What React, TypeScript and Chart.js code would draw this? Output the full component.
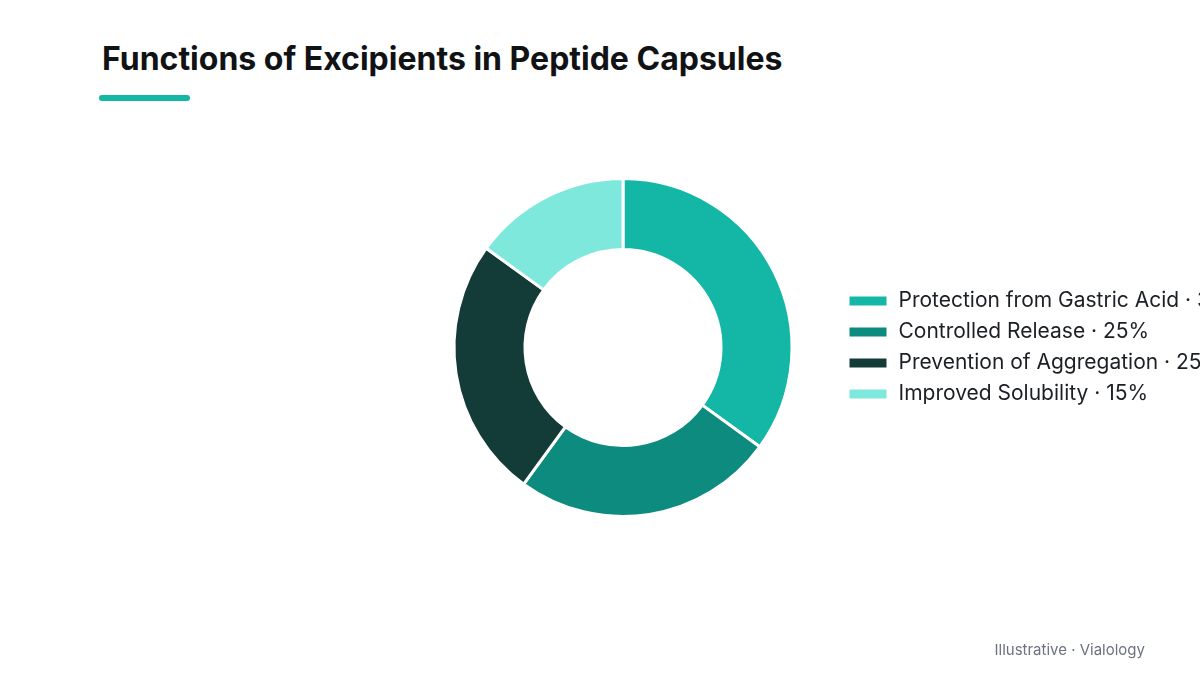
import React, { useEffect, useRef } from "react";
import { Chart, registerables } from "chart.js";

Chart.register(...registerables);

const FONT = "Inter, 'Noto Sans', sans-serif";

const functionNames = [
  "Protection from Gastric Acid",
  "Controlled Release",
  "Prevention of Aggregation",
  "Improved Solubility",
];
const shares = [35, 25, 25, 15];
const sliceColors = ["#14b6a5", "#0d8b7e", "#133c38", "#7fe8dc"];

const DonutChart = () => {
  const ref = useRef<HTMLCanvasElement>(null!);

  useEffect(() => {
    const chart = new Chart(ref.current, {
      type: "doughnut",
      data: {
        labels: functionNames.map((n, i) => `${n} · ${shares[i]}%`),
        datasets: [
          {
            data: shares,
            backgroundColor: sliceColors,
            borderColor: "#ffffff",
            borderWidth: 3,
          },
        ],
      },
      options: {
        animation: false,
        responsive: true,
        maintainAspectRatio: false,
        cutout: "58%",
        layout: {
          padding: { left: 408, top: 177, bottom: 157, right: 0 },
        },
        plugins: {
          tooltip: { enabled: false },
          legend: {
            position: "right",
            maxWidth: 362,
            labels: {
              boxWidth: 40,
              boxHeight: 12,
              padding: 10,
              color: "#1c1f24",
              font: { family: FONT, size: 21 },
            },
          },
        },
      },
    });
    return () => {
      chart.destroy();
    };
  }, []);

  return <canvas ref={ref} />;
};

export default function App() {
  return (
    <div
      style={{
        position: "absolute",
        left: 0,
        top: 0,
        width: 1200,
        height: 675,
        background: "#ffffff",
        fontFamily: FONT,
        overflow: "hidden",
      }}
    >
      <div
        style={{
          position: "absolute",
          left: 102,
          top: 40,
          fontSize: 32,
          fontWeight: 700,
          lineHeight: "38px",
          color: "#111214",
          whiteSpace: "nowrap",
        }}
      >
        Functions of Excipients in Peptide Capsules
      </div>
      <div
        style={{
          position: "absolute",
          left: 99,
          top: 95,
          width: 91,
          height: 6,
          borderRadius: 3,
          background: "#14b6a5",
        }}
      />
      <div style={{ position: "absolute", left: 0, top: 0, width: 1200, height: 675 }}>
        <DonutChart />
      </div>
      <div
        style={{
          position: "absolute",
          right: 55,
          top: 640,
          fontSize: 15,
          color: "#6b7280",
          whiteSpace: "nowrap",
        }}
      >
        Illustrative · Vialology
      </div>
    </div>
  );
}
